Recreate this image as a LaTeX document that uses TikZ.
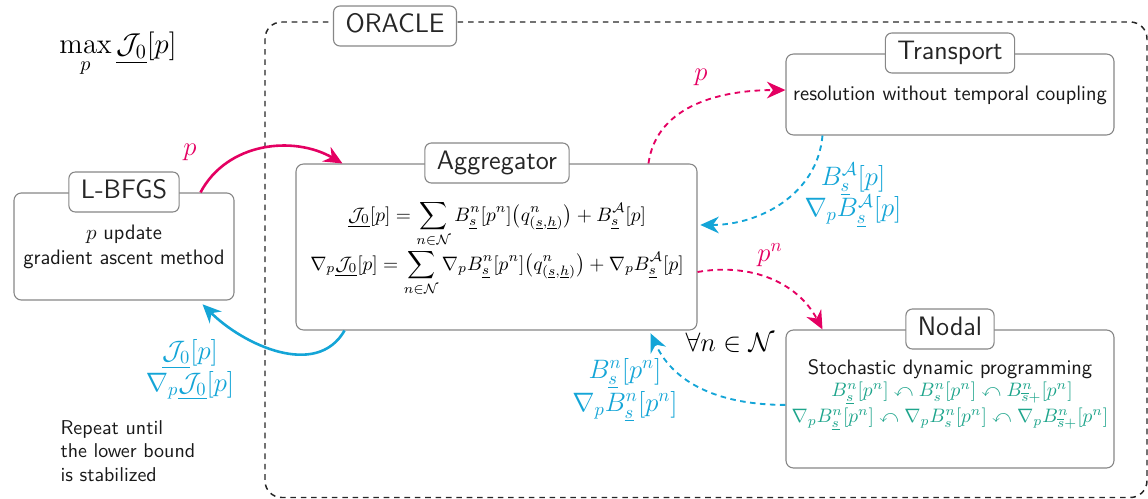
\RequirePackage{fix-cm}
\documentclass[tikz,border=0pt]{standalone}
\usepackage{amsmath,amssymb}
\usetikzlibrary{arrows.meta}
\renewcommand{\familydefault}{\sfdefault}
\definecolor{pinkc}{RGB}{228,0,98}
\definecolor{cyanc}{RGB}{20,165,215}
\definecolor{tealc}{RGB}{30,165,140}
\definecolor{boxgray}{RGB}{135,135,135}
\newcommand{\boxfont}{\fontsize{11.3}{13.5}\selectfont}
\newcommand{\eqfont}{\fontsize{10.5}{12.6}\selectfont}
\tikzset{
  bigbox/.style={draw=boxgray, line width=0.6pt, rounded corners=4pt, fill=white, inner sep=0pt},
  titlebox/.style={draw=boxgray, line width=0.6pt, rounded corners=3.5pt, fill=white, inner xsep=6.5pt, inner ysep=4.3pt, text height=10pt, text depth=3pt, font=\Large, text=black!85},
  solidarr/.style={line width=1.4pt, -{Stealth[length=10pt,width=9pt]}},
  dasharr/.style={line width=1pt, dash pattern=on 3pt off 2.4pt, -{Stealth[length=10pt,width=9pt]}},
  lbl/.style={font=\Large, align=center},
  txt/.style={align=center, text=black!90, font=\boxfont},
}
\begin{document}
\begin{tikzpicture}[x=0.54pt,y=-0.54pt]
\useasboundingbox (0,0) rectangle (1148,499);
\clip (0,0) rectangle (1148,499);
% oracle
\draw[black!85, line width=0.8pt, dash pattern=on 3pt off 2.6pt, rounded corners=9pt] (265,22) rectangle (1147,497.5);
\node[titlebox] (oracle) at (395,26) {ORACLE};

% boxes
\node[bigbox, minimum width=118.8pt, minimum height=57.8pt] (lbfgs) at (124,246.5) {};
\node[bigbox, minimum width=216.5pt, minimum height=89.6pt] (agg) at (496.5,247) {};
\node[bigbox, minimum width=177.1pt, minimum height=43.7pt] (trans) at (950,94.5) {};
\node[bigbox, minimum width=177.1pt, minimum height=74.5pt] (nodal) at (950,399) {};

\node[titlebox] (lbfgst) at (124,192) {L-BFGS};
\node[titlebox] (aggt) at (497,163) {Aggregator};
\node[titlebox] (transt) at (950,53) {Transport};
\node[titlebox] (nodalt) at (950,329) {Nodal};

% texts
\node[font=\fontsize{15.5}{18}\selectfont] (maxp) at (118,55) {$\displaystyle\max_p \underline{\mathcal{J}_0}[p]$};
\node[txt] (lbfgstxt) at (124,247) {$p$ update\\gradient ascent method};
\node[anchor=base, font=\eqfont] (eq1) at (497,221) {$\displaystyle \underline{\mathcal{J}_0}[p] = \sum_{n\in\mathcal{N}} B^n_{\underline{s}}[p^n]\big(q^n_{(\underline{s},\underline{h})}\big) + B^{\mathcal{A}}_{\underline{s}}[p]$};
\node[anchor=base, font=\eqfont] (eq2) at (497,270) {$\displaystyle \nabla_p\underline{\mathcal{J}_0}[p] = \sum_{n\in\mathcal{N}} \nabla_p B^n_{\underline{s}}[p^n]\big(q^n_{(\underline{s},\underline{h})}\big) + \nabla_p B^{\mathcal{A}}_{\underline{s}}[p]$};
\node[txt] (transtxt) at (950,95) {resolution without temporal coupling};
\node[txt] (nodaltxt) at (950,369) {Stochastic dynamic programming};
\node[text=tealc, font=\eqfont] (nod1) at (952,393) {$B^n_{\underline{s}}[p^n]\curvearrowleft B^n_s[p^n]\curvearrowleft B^n_{\overline{s}+}[p^n]$};
\node[text=tealc, font=\eqfont] (nod2) at (950,419) {$\nabla_pB^n_{\underline{s}}[p^n]\curvearrowleft \nabla_pB^n_s[p^n]\curvearrowleft \nabla_pB^n_{\overline{s}+}[p^n]$};
\node[anchor=north west, align=left, text=black!90, font=\fontsize{10.8}{12.7}\selectfont] (repeat) at (54,414) {Repeat until\\the lower bound\\is stabilized};

% labels
\node[lbl, text=pinkc] (lp1) at (190,152) {$p$};
\node[lbl, text=cyanc] (lj) at (190,370) {$\underline{\mathcal{J}_0}[p]$\\[-1pt]$\nabla_p\underline{\mathcal{J}_0}[p]$};
\node[lbl, text=pinkc] (lp2) at (701,77) {$p$};
\node[lbl, text=cyanc] (lba) at (853,195) {$B^{\mathcal{A}}_{\underline{s}}[p]$\\[-1pt]$\nabla_pB^{\mathcal{A}}_{\underline{s}}[p]$};
\node[lbl, text=pinkc] (lpn) at (770,255) {$p^n$};
\node[lbl] (forall) at (730,343) {$\forall n\in\mathcal{N}$};
\node[lbl, text=cyanc] (lbn) at (625,390) {$B^n_{\underline{s}}[p^n]$\\[0pt]$\nabla_pB^n_{\underline{s}}[p^n]$};

% connectors
\draw[solidarr, pinkc] ([xshift=-18.4pt]lbfgs.north east) to[out=62, in=150] ([xshift=25.4pt]agg.north west);
\draw[solidarr, cyanc] ([xshift=26.5pt]agg.south west) to[out=-120, in=-45] ([xshift=-17.3pt,yshift=-2pt]lbfgs.south east);
\draw[dasharr, pinkc] ([xshift=-26.5pt]agg.north east) to[out=82, in=180] ([yshift=2.4pt]trans.west);
\draw[dasharr, cyanc] ([xshift=20pt]trans.south west) to[out=-95, in=0] ([xshift=1.5pt,yshift=11.9pt]agg.east);
\draw[dasharr, pinkc] ([yshift=-13.5pt]agg.east) to[out=10, in=118] ([xshift=20pt]nodal.north west);
\draw[dasharr, cyanc] ([yshift=-3.2pt]nodal.west) to[out=180, in=-65] ([xshift=-25.4pt,yshift=-1.5pt]agg.south east);
\end{tikzpicture}
\end{document}
